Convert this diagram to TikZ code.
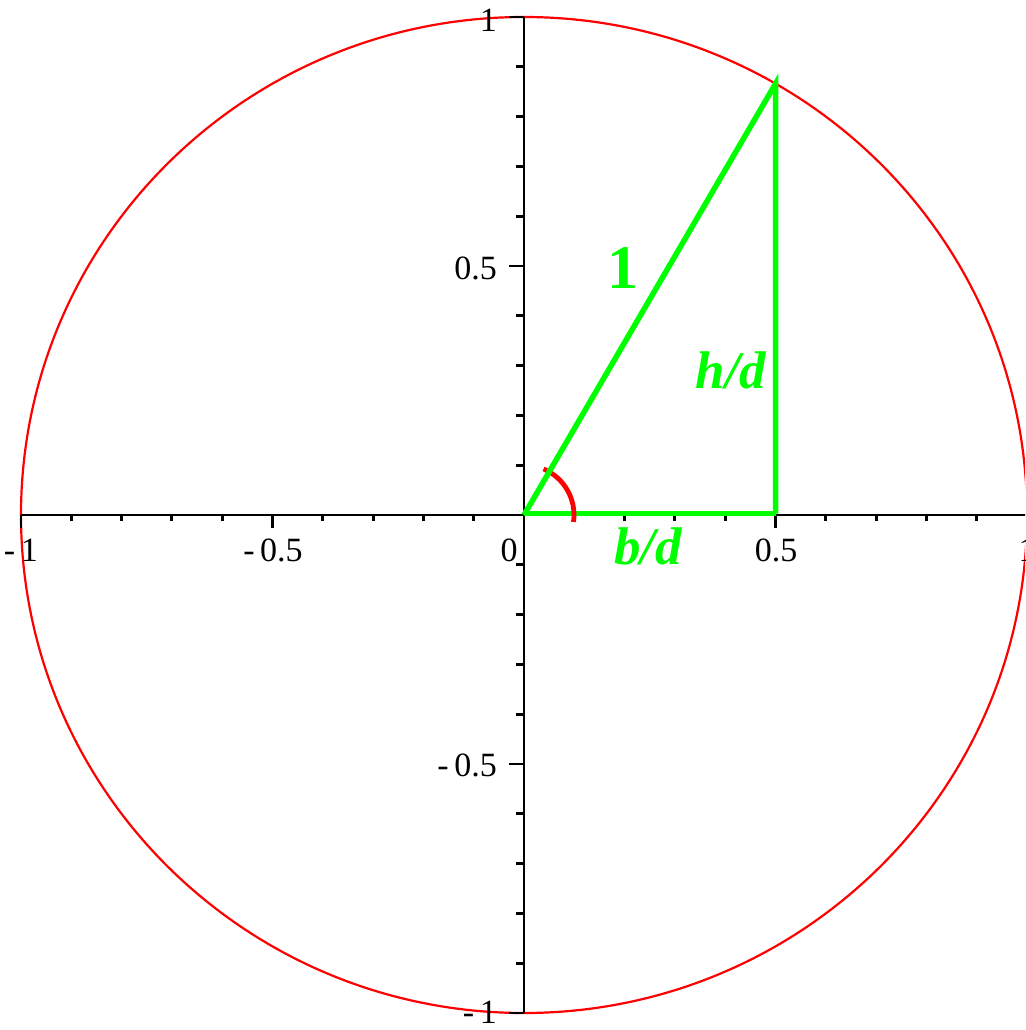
\documentclass[tikz,border=0pt]{standalone}
\usepackage{fontspec}
\setmainfont{Liberation Serif}
\definecolor{pgreen}{RGB}{0,255,0}
\definecolor{pred}{RGB}{255,0,0}
\begin{document}
\begin{tikzpicture}[x=503pt,y=498pt,
  axisline/.style={line width=2.8pt, black},
  tickline/.style={line width=2.8pt, black},
  tri/.style={line width=5.5pt, pgreen},
  circ/.style={line width=2.2pt, pred},
  anglearc/.style={line width=4.8pt, pred},
  ticklbl/.style={inner sep=0pt, font=\fontsize{34}{40}\selectfont},
  ylbl/.style={ticklbl, anchor=east},
  biglbl/.style={inner sep=0pt, text=pgreen, font=\fontsize{62}{74}\selectfont\bfseries},
  midlbl/.style={inner sep=0pt, text=pgreen, font=\fontsize{53}{63}\selectfont\bfseries\itshape}]
\clip (-1.04175,-1.03414) rectangle (0.99602,1.03414);
\fill[white] (-1.04175,-1.03414) rectangle (0.99602,1.03414);
\coordinate (O) at (0,0);
\coordinate (A) at (0.5,0);
\coordinate (P) at (0.5,0.866);
\coordinate (xl) at (-1,0);
\coordinate (xr) at (1,0);
\coordinate (yb) at (0,-1);
\coordinate (yt) at (0,1);
% unit circle
\draw[circ] (O) ellipse [x radius=1, y radius=1];
% axes
\draw[axisline] (xl) -- (xr);
\draw[axisline] (yb) -- (yt);
% ticks
\foreach \i in {-10,...,10}{
  \ifnum\i=0\relax\else
    \pgfmathtruncatemacro{\m}{mod(abs(\i),5)}
    \ifnum\m=0
      \draw[tickline] (\i/10,0) -- ++(0pt,-13pt);
      \draw[tickline] (0,\i/10) -- ++(-15pt,0pt);
    \else
      \draw[tickline] (\i/10,0) -- ++(0pt,-6pt);
      \draw[tickline] (0,\i/10) -- ++(-8pt,0pt);
    \fi
  \fi
}
% tick labels
\node[ticklbl] (lx0) at (-0.0298,-0.0703) {0};
\node[ticklbl] (lxp5) at (0.501,-0.0703) {0.5};
\node[ticklbl] (lxm5) at (-0.499,-0.0703) {-\,0.5};
\node[ticklbl] (lxm1) at (-1,-0.0703) {-\,1};
\node[ticklbl] (lxp1) at (1,-0.0703) {1};
\node[ylbl] (ly1) at (-0.0537,0.994) {1};
\node[ylbl] (lyp5) at (-0.0537,0.496) {0.5};
\node[ylbl] (lym5) at (-0.0537,-0.502) {-\,0.5};
\node[ylbl] (lym1) at (-0.0537,-0.998) {-\,1};
% green base
\draw[tri] ([yshift=1.5pt]O) -- ([yshift=1.5pt]A);
% angle arc
\draw[anglearc] (O) ++(-8:50pt) arc[start angle=-8, end angle=67, radius=50pt];
% triangle
\draw[tri, line join=miter] (O) -- (P) -- ([yshift=1.5pt]A);
% labels
\node[biglbl] (one) at (0.197,0.496) {1};
\node[midlbl] (hd) at (0.4115,0.291) {h/d};
\node[midlbl] (bd) at (0.2465,-0.0622) {b/d};
\end{tikzpicture}
\end{document}
